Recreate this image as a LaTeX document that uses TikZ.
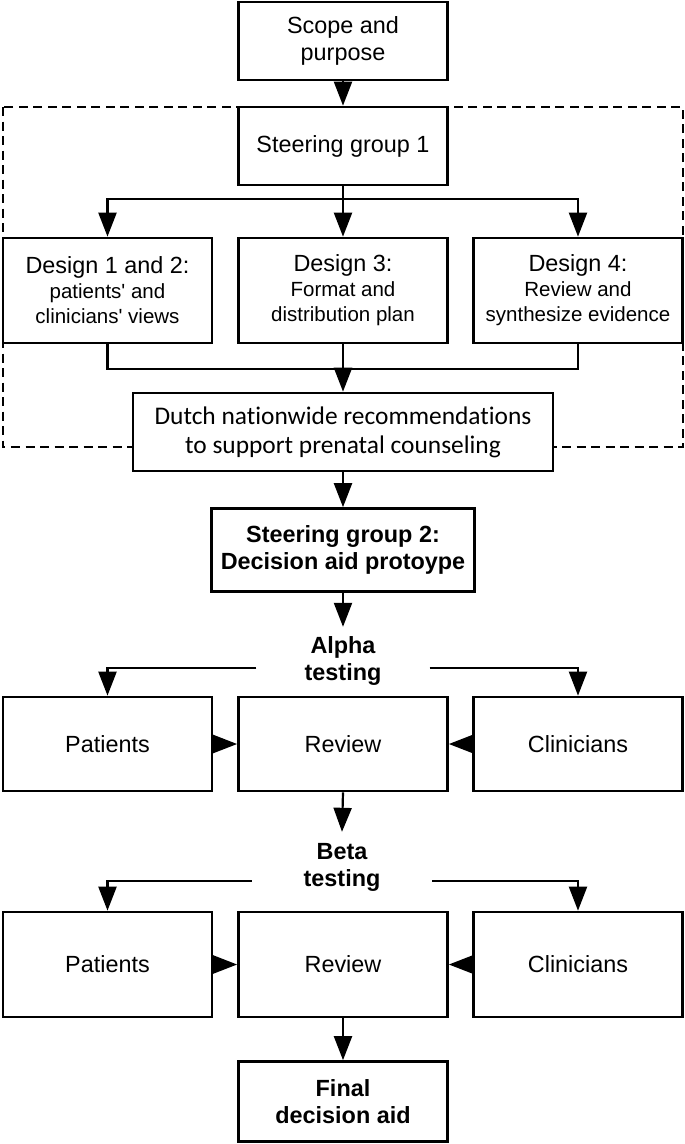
\documentclass[tikz,border=0pt]{standalone}
\usepackage{fontspec}
\newfontfamily\lib{Liberation Sans}
\newfontfamily\carl{Carlito}[Ligatures={CommonOff}]
\usetikzlibrary{arrows.meta}
\tikzset{
  box/.style={draw, line width=2.7pt, fill=white, align=center, inner sep=0pt,
    minimum width=209pt, font=\lib\fontsize{23.4}{27}\selectfont},
  bbox/.style={box, font=\lib\bfseries\fontsize{23.4}{27}\selectfont},
  dbox/.style={box, minimum height=105pt, font=\lib\fontsize{20.5}{25}\selectfont},
  lab/.style={align=center, inner sep=0pt, font=\lib\bfseries\fontsize{23.4}{27}\selectfont},
  ln/.style={line width=2.2pt},
  arr/.style={line width=2.2pt, -{Triangle[length=24pt,width=18pt]}},
  frame/.style={line width=2.4pt, dash pattern=on 9pt off 5.5pt},
}
\newcommand{\ttl}[1]{{\fontsize{23.4}{25}\selectfont #1}}
\begin{document}
\begin{tikzpicture}[x=1pt,y=-1pt]
\useasboundingbox (0,0) rectangle (685,1144);
\draw[frame] (3,107) rectangle (683,447);
\node[box, minimum height=78pt] (scope) at (343,41) {Scope and\\purpose};
\node[box, minimum height=78pt] (sg1) at (343,146) {Steering group 1};
\node[dbox] (d12) at (107.5,290.5) {\ttl{Design 1 and 2:}\\patients' and\\clinicians' views};
\node[dbox] (d3) at (343,290.5) {\ttl{Design 3:}\\Format and\\distribution plan};
\node[dbox] (d4) at (578,290.5) {\ttl{Design 4:}\\Review and\\synthesize evidence};
\node[box, minimum width=420pt, minimum height=78pt, font=\carl\fontsize{25.4}{29}\selectfont] (dutch) at (343,432) {Dutch nationwide recommendations\\to support prenatal counseling};
\node[bbox, minimum width=263pt, minimum height=83pt] (sg2) at (343,550) {Steering group 2:\\Decision aid protoype};
\node[lab, minimum width=173pt, minimum height=68pt] (alpha) at (343,661) {Alpha\\testing};
\node[box, minimum height=94pt] (pA) at (107.5,744) {Patients};
\node[box, minimum height=94pt] (rA) at (343,744) {Review};
\node[box, minimum height=94pt] (cA) at (578,744) {Clinicians};
\node[lab, minimum width=180pt, minimum height=70pt] (beta) at (342,867) {Beta\\testing};
\node[box, minimum height=105pt] (pB) at (107.5,964.5) {Patients};
\node[box, minimum height=105pt] (rB) at (343,964.5) {Review};
\node[box, minimum height=105pt] (cB) at (578,964.5) {Clinicians};
\node[bbox, minimum height=80pt] (final) at (343,1101.5) {Final\\decision aid};
% connectors
\draw[arr] (scope) -- (sg1);
\draw[arr] (sg1.south) -- (d3.north);
\draw[arr] (sg1.south) -- ++(0,13) -| (d12.north);
\draw[arr] (sg1.south) -- ++(0,13) -| (d4.north);
\draw[ln] (d12.south) -- ++(0,25) -| (d4.south);
\draw[arr] (d3.south) -- (dutch.north);
\draw[arr] (dutch.south) -- (sg2.north);
\draw[arr] (sg2.south) -- (alpha.north);
\draw[arr] ([yshift=-7pt]alpha.west) -| (pA.north);
\draw[arr] ([yshift=-7pt]alpha.east) -| (cA.north);
\draw[arr] (pA.east) -- (rA.west);
\draw[arr] (cA.west) -- (rA.east);
\draw[arr] (rA.south) -- (beta.north);
\draw[arr] ([yshift=-14pt]beta.west) -| (pB.north);
\draw[arr] ([yshift=-14pt]beta.east) -| (cB.north);
\draw[arr] (pB.east) -- (rB.west);
\draw[arr] (cB.west) -- (rB.east);
\draw[arr] (rB.south) -- (final.north);
\end{tikzpicture}
\end{document}
